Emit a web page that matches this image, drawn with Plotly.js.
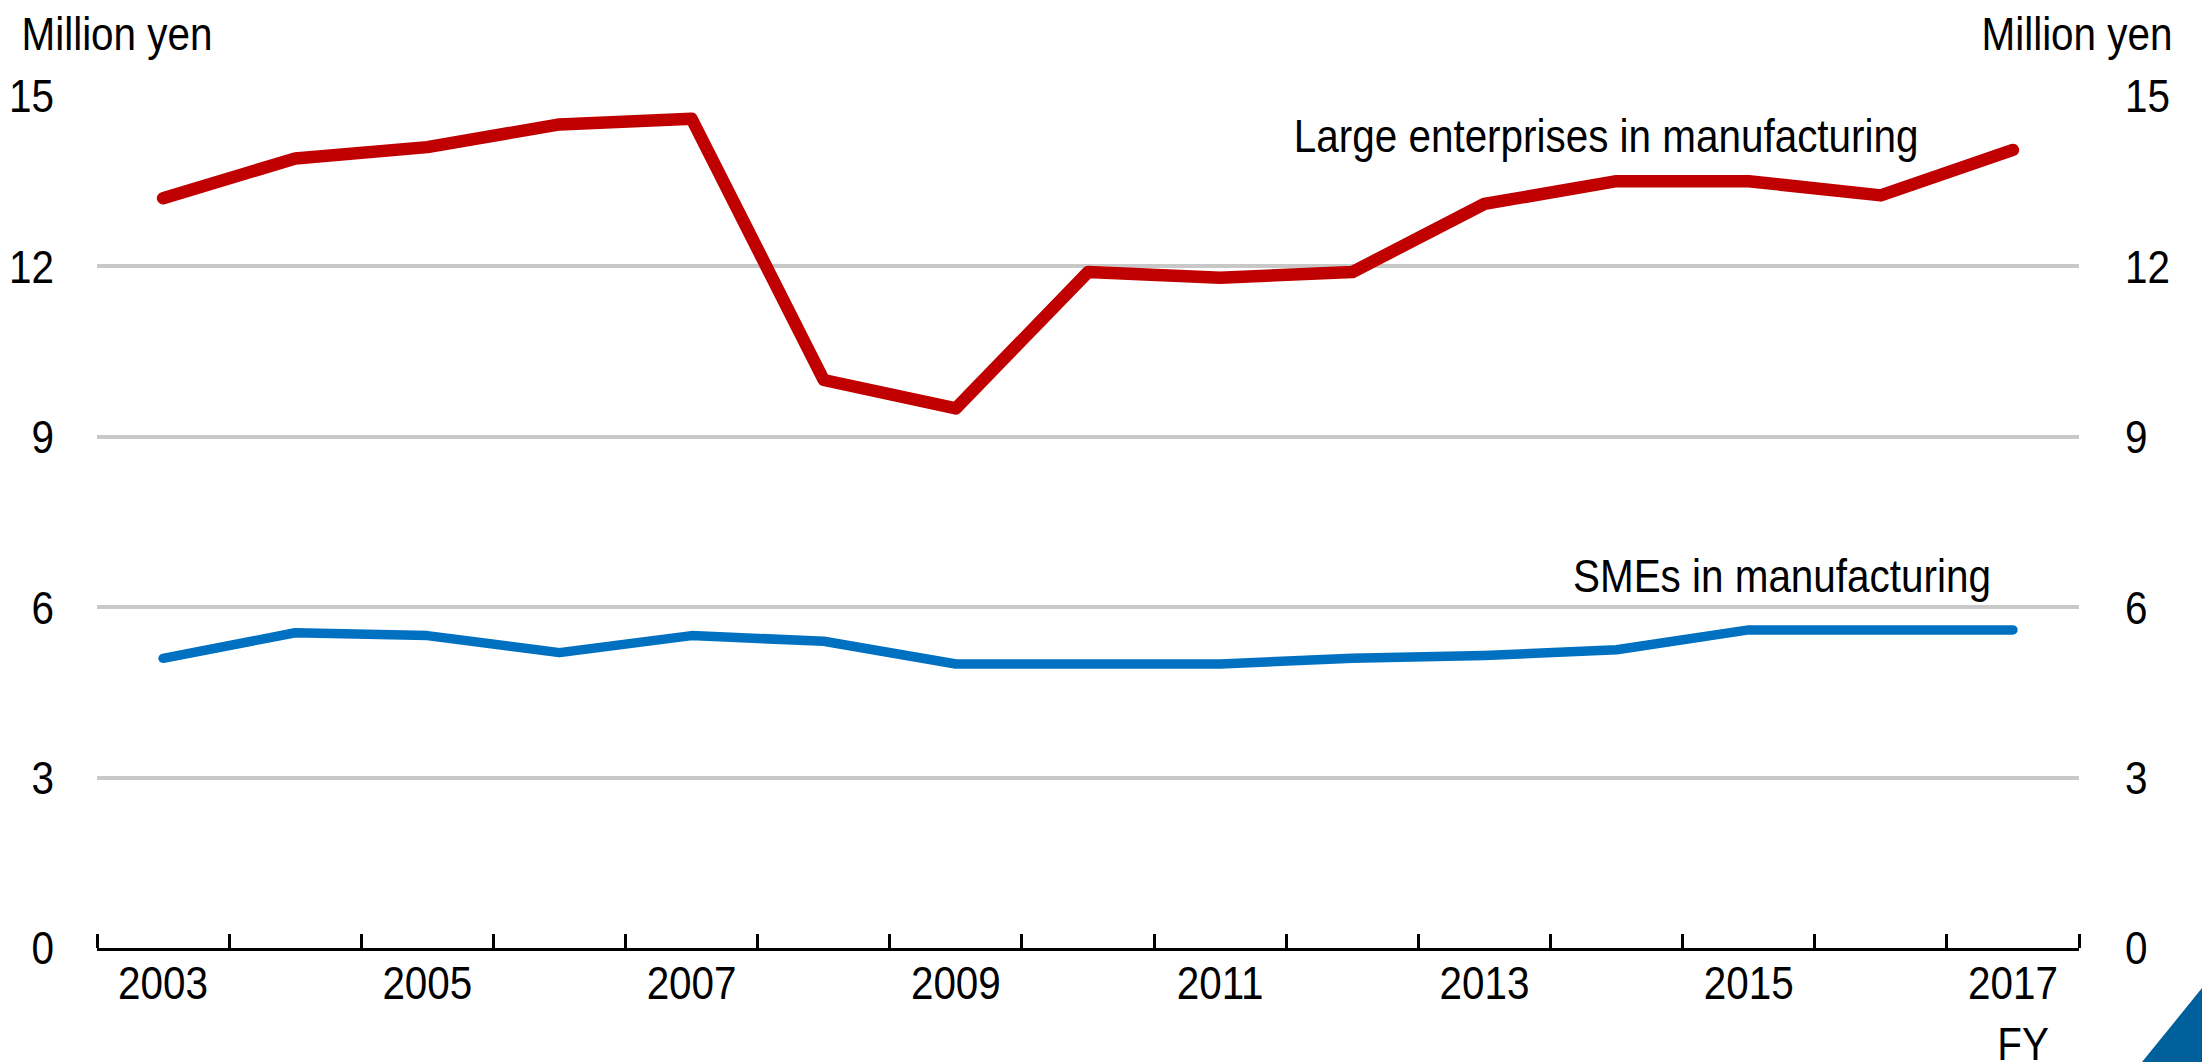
<!DOCTYPE html>
<html>
<head>
<meta charset="utf-8">
<script src="https://cdn.plot.ly/plotly-3.0.1.min.js"></script>
<style>html,body{margin:0;padding:0;background:#fff;overflow:hidden}</style>
</head>
<body>
<div id="chart" style="width:2202px;height:1062px"></div>
<script>
const years = [2003,2004,2005,2006,2007,2008,2009,2010,2011,2012,2013,2014,2015,2016,2017];
const largeEnterprises = [13.2,13.9,14.1,14.5,14.6,10.0,9.5,11.9,11.8,11.9,13.1,13.5,13.5,13.25,14.05];
const smes = [5.1,5.55,5.5,5.2,5.5,5.4,5.0,5.0,5.0,5.1,5.15,5.25,5.6,5.6,5.6];
const yTicks = [0,3,6,9,12,15];
const xTickLabels = [2003,2005,2007,2009,2011,2013,2015,2017];
const seriesNames = ["Large enterprises in manufacturing","SMEs in manufacturing"];
const unitLabel = "Million yen";
const xUnitLabel = "FY";

const fam = "Liberation Sans, Arial, sans-serif";
const fs = 47;
const squeeze = 0.86;
const font = {family: fam, size: fs, color: "#000"};

const traces = [
  {x: years, y: largeEnterprises, type: "scatter", mode: "lines", name: seriesNames[0],
   line: {color: "#C00000", width: 12.5}, hoverinfo: "skip"},
  {x: years, y: smes, type: "scatter", mode: "lines", name: seriesNames[1],
   line: {color: "#0070C0", width: 9.5}, hoverinfo: "skip"},
  {x: years, y: smes, type: "scatter", mode: "lines", yaxis: "y2", showlegend: false,
   line: {color: "rgba(0,0,0,0)", width: 0}, hoverinfo: "skip"}
];

const layout = {
  width: 2202, height: 1062,
  margin: {l: 97, r: 123, t: 96, b: 114, pad: 0},
  paper_bgcolor: "#fff", plot_bgcolor: "#fff",
  showlegend: false,
  font: font,
  xaxis: {
    range: [2002.5, 2017.5], tickmode: "array", tickvals: xTickLabels,
    ticktext: xTickLabels.map(String), ticks: "", showgrid: false, zeroline: false,
    showline: true, linecolor: "#000", linewidth: 3, ticklabelstandoff: -8,
    tickfont: font,
    minor: {tick0: 2002.5, dtick: 1, ticks: "inside", ticklen: 14, tickwidth: 3, tickcolor: "#000", showgrid: false}
  },
  yaxis: {
    range: [0, 15], tickmode: "array", tickvals: yTicks, ticks: "",
    showgrid: true, gridcolor: "#C8C8C8", gridwidth: 4, zeroline: false, showline: false,
    ticklabelstandoff: 42, tickfont: font
  },
  yaxis2: {
    range: [0, 15], tickmode: "array", tickvals: yTicks, ticks: "", overlaying: "y", side: "right",
    showgrid: false, zeroline: false, showline: false, ticklabelstandoff: 45, tickfont: font
  },
  annotations: [
    {text: unitLabel, xref: "paper", yref: "paper", x: 0.0101, y: 1.073, xanchor: "center", yanchor: "middle", showarrow: false, font: font},
    {text: unitLabel, xref: "paper", yref: "paper", x: 0.9992, y: 1.073, xanchor: "center", yanchor: "middle", showarrow: false, font: font},
    {text: xUnitLabel, xref: "paper", yref: "paper", x: 0.9718, y: -0.112, xanchor: "center", yanchor: "middle", showarrow: false, font: font},
    {text: seriesNames[0], xref: "x", yref: "y", x: 2013.92, y: 14.30, xanchor: "center", yanchor: "middle", showarrow: false, font: font},
    {text: seriesNames[1], xref: "x", yref: "y", x: 2015.25, y: 6.55, xanchor: "center", yanchor: "middle", showarrow: false, font: font}
  ],
  shapes: [
    {type: "path", xref: "paper", yref: "paper", path: "M 1.0318 -0.1338 L 1.0621 -0.0469 L 1.0621 -0.1338 Z",
     fillcolor: "#00609C", line: {width: 0}, layer: "above"}
  ]
};

Plotly.newPlot("chart", traces, layout, {displayModeBar: false, staticPlot: true}).then(function(){
  document.querySelectorAll('.scatterlayer path.js-line').forEach(function(p){
    p.style.strokeLinecap = 'round'; p.style.strokeLinejoin = 'round';
  });
  document.querySelectorAll('#chart svg text').forEach(function(t){
    if (!t.textContent.trim()) return;
    const w = t.getComputedTextLength();
    if (w > 0) {
      t.setAttribute('textLength', (w * squeeze).toFixed(2));
      t.setAttribute('lengthAdjust', 'spacingAndGlyphs');
    }
  });
});
</script>
</body>
</html>
